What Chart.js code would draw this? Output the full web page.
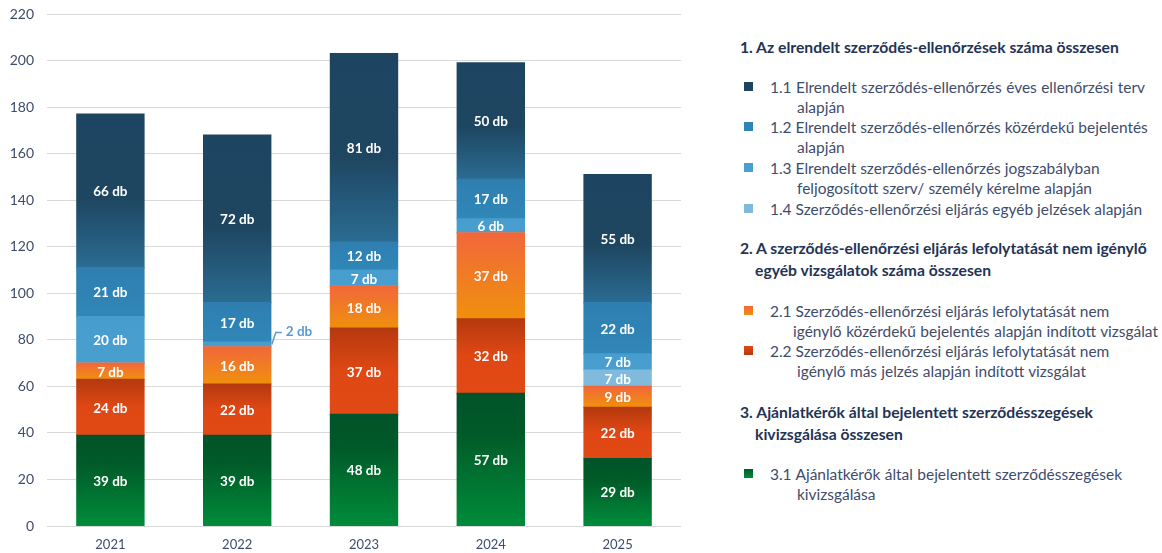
<!DOCTYPE html>
<html lang="hu">
<head>
<meta charset="utf-8">
<script src="https://cdn.jsdelivr.net/npm/chart.js@4.4.0/dist/chart.umd.min.js"></script>
<style>
    body { margin: 0; background: #fff; font-family: Lato, "Open Sans", sans-serif; }
    #wrap { position: relative; width: 1162px; height: 553px; overflow: hidden; }
    #chartBox { position: absolute; left: 0; top: 0; width: 690px; height: 553px; }
    .lg { position: absolute; white-space: nowrap; font-size: 14.6px; line-height: 20px; color: #3e4c6c; }
    .lg.title { font-weight: bold; color: #1f3456; }
    .lg.just { text-align: justify; text-align-last: justify; }
    .sq { position: absolute; width: 9px; height: 9px; }
</style>
</head>
<body>
<div id="wrap">
    <div id="chartBox"><canvas id="stackCanvas"></canvas></div>
    <div id="legend"></div>
</div>
<script>
// Data
const years = ['2021', '2022', '2023', '2024', '2025'];
const s31 = [39, 39, 48, 57, 29];   // 3.1 Ajánlatkérők által bejelentett
const s22 = [24, 22, 37, 32, 22];   // 2.2 más jelzés
const s21 = [7, 16, 18, 37, 9];     // 2.1 közérdekű bejelentés
const s14 = [0, 0, 0, 0, 7];        // 1.4 egyéb jelzések
const s13 = [20, 2, 7, 6, 7];       // 1.3 jogszabályban feljogosított
const s12 = [21, 17, 12, 17, 22];   // 1.2 közérdekű bejelentés
const s11 = [66, 72, 81, 50, 55];   // 1.1 éves ellenőrzési terv
const yTicks = [0, 20, 40, 60, 80, 100, 120, 140, 160, 180, 200, 220];

// stack order bottom -> top
const stackSeries = [s31, s22, s21, s14, s13, s12, s11];

// gradient stops per series (top -> bottom)
const gradients = [
    [[0, '#00532a'], [0.3, '#005a28'], [1, '#008c3a']],
    [[0, '#b5390f'], [0.5, '#df4814'], [1, '#e14a14']],
    [[0, '#f2673a'], [0.45, '#f07a26'], [1, '#f0900c']],
    [[0, '#80badc'], [1, '#80badc']],
    [[0, '#479dcd'], [1, '#489ecf']],
    [[0, '#2e7fb0'], [1, '#3087b8']],
    [[0, '#1d4460'], [0.55, '#1e4661'], [1, '#2b6c92']]
];

function baseOf(si, idx) {
    let b = 0;
    for (let k = 0; k < si; k++) b += stackSeries[k][idx];
    return b;
}

function makeFill(si) {
    return function(ctx) {
        const chart = ctx.chart;
        const stops = gradients[si];
        if (!chart.chartArea || ctx.dataIndex === undefined) return stops[0][1];
        const y = chart.scales.y;
        const b = baseOf(si, ctx.dataIndex);
        const top = y.getPixelForValue(b + stackSeries[si][ctx.dataIndex]);
        const bot = y.getPixelForValue(b);
        if (bot - top < 1) return stops[0][1];
        const g = chart.ctx.createLinearGradient(0, top, 0, bot);
        stops.forEach(s => g.addColorStop(s[0], s[1]));
        return g;
    };
}

// segment labels inside bars
const segmentLabels = {
    id: 'segmentLabels',
    afterDatasetsDraw(chart) {
        const c = chart.ctx;
        c.save();
        c.font = 'bold 13.5px Lato, sans-serif';
        c.fillStyle = '#ffffff';
        c.textAlign = 'center';
        c.textBaseline = 'middle';
        chart.data.datasets.forEach((ds, di) => {
            const meta = chart.getDatasetMeta(di);
            meta.data.forEach((bar, i) => {
                const v = ds.data[i];
                if (!v || v < 5) return;
                c.fillText(v + ' db', bar.x, (bar.y + bar.base) / 2 + 1);
            });
        });

        // callout for the small 2022 segment
        const meta13 = chart.getDatasetMeta(4);
        meta13.data.forEach((bar, i) => {
            const v = chart.data.datasets[4].data[i];
            if (!v || v >= 5) return;
            const xr = bar.x + bar.width / 2 + 1;
            const ym = (bar.y + bar.base) / 2;
            c.strokeStyle = '#5b9bd5';
            c.lineWidth = 1.5;
            c.beginPath();
            c.moveTo(xr, ym);
            c.lineTo(xr + 4, ym - 12);
            c.lineTo(xr + 10, ym - 12);
            c.stroke();
            c.fillStyle = '#5b9bd5';
            c.textAlign = 'left';
            c.fillText(v + ' db', xr + 14, ym - 13);
        });
        c.restore();
    }
};

const names = ['3.1', '2.2', '2.1', '1.4', '1.3', '1.2', '1.1'];

new Chart(document.getElementById('stackCanvas'), {
    type: 'bar',
    data: {
        labels: years,
        datasets: stackSeries.map((arr, si) => ({
            label: names[si],
            data: arr,
            backgroundColor: makeFill(si),
            borderWidth: 0,
            inflateAmount: 0.6,
            categoryPercentage: 0.53,
            barPercentage: 1
        }))
    },
    options: {
        responsive: true,
        maintainAspectRatio: false,
        animation: false,
        layout: { padding: { top: 14, right: 9, left: 0, bottom: 0 } },
        plugins: {
            legend: { display: false },
            tooltip: { enabled: false }
        },
        scales: {
            x: {
                stacked: true,
                grid: { display: false, drawTicks: false },
                border: { display: false },
                ticks: {
                    color: '#3e4c6c',
                    font: { family: 'Lato, sans-serif', size: 13 },
                    padding: 11
                },
                afterFit: function(scale) { scale.height = 27; }
            },
            y: {
                stacked: true,
                min: 0,
                max: 220,
                afterBuildTicks: function(scale) {
                    scale.ticks = yTicks.map(v => ({ value: v }));
                },
                grid: { color: '#d9d9d9', lineWidth: 1, drawTicks: false },
                border: { display: false },
                ticks: {
                    color: '#3e4c6c',
                    font: { family: 'Lato, sans-serif', size: 14 },
                    padding: 13
                },
                afterFit: function(scale) {
                    scale.width = 47;
                    scale.paddingTop = 0;
                    scale.paddingBottom = 0;
                }
            }
        }
    },
    plugins: [segmentLabels]
});

// Legend (right side)
const legendLines = [
    { t: '1. Az elrendelt szerződés-ellenőrzések száma összesen', x: 740, y: 47, w: 373, cls: 'title' },
    { t: '1.1 Elrendelt szerződés-ellenőrzés éves ellenőrzési terv', x: 770, y: 87, w: 375, sq: '#1e4560' },
    { t: 'alapján', x: 797, y: 107 },
    { t: '1.2 Elrendelt szerződés-ellenőrzés közérdekű bejelentés', x: 770, y: 127, w: 377, sq: '#2e84b4' },
    { t: 'alapján', x: 797, y: 147 },
    { t: '1.3 Elrendelt szerződés-ellenőrzés jogszabályban', x: 770, y: 168, w: 327, sq: '#48a0d0' },
    { t: 'feljogosított szerv/ személy kérelme alapján', x: 797, y: 188, w: 295 },
    { t: '1.4 Szerződés-ellenőrzési eljárás egyéb jelzések alapján', x: 770, y: 209, w: 372, sq: '#7fb9dc' },
    { t: '2. A szerződés-ellenőrzési eljárás lefolytatását nem igénylő', x: 740, y: 248, w: 405, cls: 'title' },
    { t: 'egyéb vizsgálatok száma összesen', x: 755, y: 270, w: 233, cls: 'title' },
    { t: '2.1 Szerződés-ellenőrzési eljárás lefolytatását nem', x: 770, y: 311, w: 339, sq: 'linear-gradient(#f2673a, #f0900c)' },
    { t: 'igénylő közérdekű bejelentés alapján indított vizsgálat', x: 793, y: 331, w: 365 },
    { t: '2.2 Szerződés-ellenőrzési eljárás lefolytatását nem', x: 770, y: 351, w: 339, sq: 'linear-gradient(#e14a14, #b5390f)' },
    { t: 'igénylő más jelzés alapján indított vizsgálat', x: 797, y: 371, w: 289 },
    { t: '3. Ajánlatkérők által bejelentett szerződésszegések', x: 740, y: 412, w: 353, cls: 'title' },
    { t: 'kivizsgálása összesen', x: 755, y: 434, w: 145, cls: 'title' },
    { t: '3.1 Ajánlatkérők által bejelentett szerződésszegések', x: 770, y: 474, w: 352, sq: 'linear-gradient(#005a28, #008c3a)' },
    { t: 'kivizsgálása', x: 797, y: 494 }
];

// pick font sizes so the natural line widths match the reference
function fitSize(text, target, weight) {
    const c = document.createElement('canvas').getContext('2d');
    c.font = weight + ' 20px Lato, sans-serif';
    return 20 * target / c.measureText(text).width;
}
const normalSize = fitSize(legendLines[7].t, 372, 'normal');
const titleSize = fitSize(legendLines[14].t, 353, 'bold');

const legendEl = document.getElementById('legend');
legendLines.forEach(l => {
    const d = document.createElement('div');
    d.className = 'lg' + (l.cls ? ' ' + l.cls : '') + (l.w ? ' just' : '');
    d.style.left = l.x + 'px';
    d.style.top = (l.y - 10) + 'px';
    d.style.fontSize = (l.cls ? titleSize : normalSize).toFixed(2) + 'px';
    if (l.w) d.style.width = l.w + 'px';
    d.textContent = l.t;
    legendEl.appendChild(d);
    if (l.sq) {
        const s = document.createElement('div');
        s.className = 'sq';
        s.style.left = '744px';
        s.style.top = (l.y - 5) + 'px';
        s.style.background = l.sq;
        legendEl.appendChild(s);
    }
});
</script>
</body>
</html>
